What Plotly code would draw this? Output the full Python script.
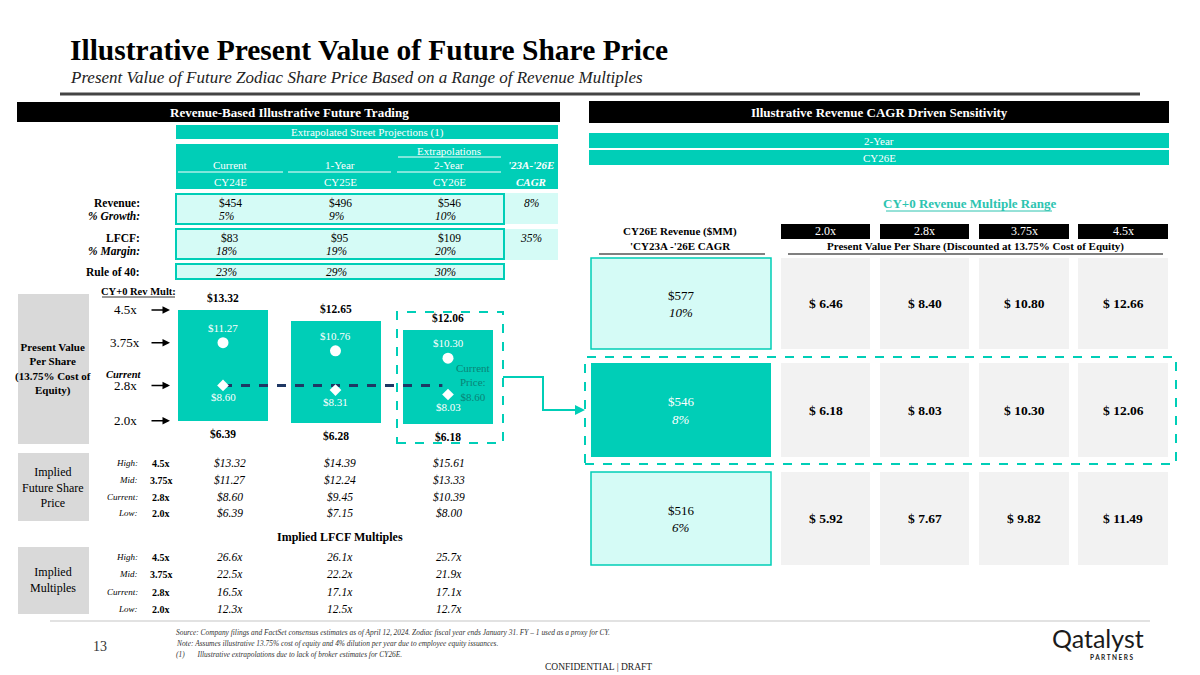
import plotly.graph_objects as go

W, H = 1200, 675
SERIF = "Liberation Serif"
TEAL = "#00CEB7"
LIGHT = "#D5FBF6"
GRAYBOX = "#D9D9D9"
CELL = "#F2F2F2"
NAVY = "#1F3864"

# ---------------- data ----------------
col_heads = ["Current", "1-Year", "2-Year"]
periods = ["CY24E", "CY25E", "CY26E"]
revenue = [454, 496, 546]
rev_growth = [5, 9, 10]
rev_cagr = 8
lfcf = [83, 95, 109]
lfcf_margin = [18, 19, 20]
lfcf_cagr = 35
rule_of_40 = [23, 29, 30]

mult_tags = ["High:", "Mid:", "Current:", "Low:"]
mult_names = ["4.5x", "3.75x", "2.8x", "2.0x"]
pv_high = [13.32, 12.65, 12.06]
pv_mid = [11.27, 10.76, 10.30]
pv_cur = [8.60, 8.31, 8.03]
pv_low = [6.39, 6.28, 6.18]
current_price = 8.60

fut_high = [13.32, 14.39, 15.61]
fut_mid = [11.27, 12.24, 13.33]
fut_cur = [8.60, 9.45, 10.39]
fut_low = [6.39, 7.15, 8.00]

lm_high = [26.6, 26.1, 25.7]
lm_mid = [22.5, 22.2, 21.9]
lm_cur = [16.5, 17.1, 17.1]
lm_low = [12.3, 12.5, 12.7]

sens_mults = ["2.0x", "2.8x", "3.75x", "4.5x"]
sens_revenue = [577, 546, 516]
sens_cagr = [10, 8, 6]
sens_pv_10 = [6.46, 8.40, 10.80, 12.66]
sens_pv_8 = [6.18, 8.03, 10.30, 12.06]
sens_pv_6 = [5.92, 7.67, 9.82, 11.49]

# ---------------- helpers ----------------
def X(p):
    return p / W


def Y(p):
    return 1 - p / H


shapes = []
annots = []


def rect(x0, y0, x1, y1, fill=None, line=None, lw=1.5, dash=None):
    shapes.append(dict(type="rect", xref="paper", yref="paper",
                       x0=X(x0), x1=X(x1), y0=Y(y1), y1=Y(y0),
                       fillcolor=fill if fill else "rgba(0,0,0,0)",
                       line=dict(color=line if line else "rgba(0,0,0,0)",
                                 width=lw if line else 0, dash=dash),
                       layer="below"))


def hline(x0, x1, y, color, w=1.5, dash=None):
    shapes.append(dict(type="line", xref="paper", yref="paper",
                       x0=X(x0), x1=X(x1), y0=Y(y), y1=Y(y),
                       line=dict(color=color, width=w, dash=dash)))


def txt(x, y, s, size=11, color="black", bold=False, italic=False,
        xanchor="center", family=SERIF, xref="paper", yref="paper", yshift=0):
    if bold:
        s = "<b>" + s + "</b>"
    if italic:
        s = "<i>" + s + "</i>"
    annots.append(dict(x=X(x) if xref == "paper" else x,
                       y=Y(y) if yref == "paper" else y,
                       xref=xref, yref=yref, text=s, showarrow=False,
                       xanchor=xanchor, yanchor="middle", yshift=yshift,
                       font=dict(family=family, size=size, color=color)))


# ---------------- title ----------------
txt(68, 50, "Illustrative Present Value of Future Share Price", 29.5, bold=True, xanchor="left")
txt(68, 77, "Present Value of Future Zodiac Share Price Based on a Range of Revenue Multiples",
    17, italic=True, xanchor="left", color="#222")
hline(60, 1140, 94, "#444444", 3)

# ---------------- left section ----------------
rect(17, 102, 560, 122, fill="black")
txt(289, 112, "Revenue-Based Illustrative Future Trading", 13, "white", bold=True)
rect(176, 125, 558, 139, fill=TEAL)
txt(367, 132, "Extrapolated Street Projections (1)", 11, "white")
rect(176, 144, 558, 189, fill=TEAL)
col_x = [230, 340, 449]
cagr_x = 531
txt(col_x[2], 151, "Extrapolations", 11, "white")
hline(398, 501, 157, "white", 1)
for i in range(3):
    txt(col_x[i], 165, col_heads[i], 11, "white")
    txt(col_x[i], 182, periods[i], 11, "white")
hline(178, 283, 172, "white", 1)
hline(288, 391, 172, "white", 1)
hline(397, 501, 172, "white", 1)
txt(cagr_x, 165, "'23A-'26E", 11, "white", bold=True, italic=True)
txt(cagr_x, 182, "CAGR", 11, "white", bold=True, italic=True)

rect(505, 193, 558, 224, fill=LIGHT)
rect(505, 229, 558, 260, fill=LIGHT)
rect(176, 194, 504, 224, fill=LIGHT, line=TEAL, lw=2)
rect(176, 229, 504, 259, fill=LIGHT, line=TEAL, lw=2)
rect(176, 264, 504, 279, fill=LIGHT, line=TEAL, lw=2)

txt(142, 203, "Revenue:", 11.5, bold=True, xanchor="right")
txt(142, 216, "% Growth:", 11.5, bold=True, italic=True, xanchor="right")
txt(142, 238, "LFCF:", 11.5, bold=True, xanchor="right")
txt(142, 251, "% Margin:", 11.5, bold=True, italic=True, xanchor="right")
txt(142, 272, "Rule of 40:", 11.5, bold=True, xanchor="right")
for i in range(3):
    txt(col_x[i], 203, f"${revenue[i]}", 11.5)
    txt(col_x[i] - 4, 216, f"{rev_growth[i]}%", 11.5, italic=True)
    txt(col_x[i], 238, f"${lfcf[i]}", 11.5)
    txt(col_x[i] - 4, 251, f"{lfcf_margin[i]}%", 11.5, italic=True)
    txt(col_x[i] - 4, 272, f"{rule_of_40[i]}%", 11.5, italic=True)
txt(cagr_x, 203, f"{rev_cagr}%", 11.5, italic=True)
txt(cagr_x, 238, f"{lfcf_cagr}%", 11.5, italic=True)

# chart labels
txt(138, 291, "CY+0 Rev Mult:", 10.5, bold=True)
hline(102, 175, 297, "black", 0.8)
rect(18, 294, 89, 444, fill=GRAYBOX)
txt(53, 369, "Present Value<br>Per Share<br>(13.75% Cost of<br>Equity)", 11, bold=True)

bar1 = [pv_high[0], pv_mid[0], pv_cur[0], pv_low[0]]
for name, v in zip(mult_names, bar1):
    txt(125, v, name, 13, xref="paper", yref="y")
    annots.append(dict(x=X(170), y=v, xref="paper", yref="y", text="", showarrow=True,
                       ax=-20, ay=0, arrowhead=2, arrowsize=1, arrowwidth=1.5,
                       arrowcolor="black"))
txt(124, 374, "Current", 10.5, bold=True, italic=True)

rect(397, 312, 503, 443, line=TEAL, lw=2, dash="dash")
txt(473, 383, "Current<br>Price:<br>$8.60", 11, color="#0A8476")

# connector arrow to sensitivity
shapes.append(dict(type="path", xref="paper", yref="paper",
                   path=f"M {X(503)},{Y(377)} L {X(543)},{Y(377)} L {X(543)},{Y(410)} L {X(575)},{Y(410)}",
                   line=dict(color=TEAL, width=2)))
annots.append(dict(x=X(585), y=Y(410), xref="paper", yref="paper", text="", showarrow=True,
                   ax=-14, ay=0, arrowhead=2, arrowsize=1, arrowwidth=2, arrowcolor=TEAL))

# ---------------- implied sections ----------------
rect(18, 453, 89, 521, fill=GRAYBOX)
txt(53, 487, "Implied<br>Future Share<br>Price", 12)
fut_rows = [fut_high, fut_mid, fut_cur, fut_low]
fut_y = [463, 480, 497, 513]
for r in range(4):
    txt(140, fut_y[r], mult_tags[r], 9, italic=True, xanchor="right")
    txt(161, fut_y[r], mult_names[r], 10, bold=True)
    for i in range(3):
        txt(col_x[i], fut_y[r], f"${fut_rows[r][i]:.2f}", 11.5, italic=True)

txt(340, 537, "Implied LFCF Multiples", 12, bold=True)
rect(18, 547, 89, 614, fill=GRAYBOX)
txt(53, 580, "Implied<br>Multiples", 12)
lm_rows = [lm_high, lm_mid, lm_cur, lm_low]
lm_y = [557, 574, 592, 609]
for r in range(4):
    txt(140, lm_y[r], mult_tags[r], 9, italic=True, xanchor="right")
    txt(161, lm_y[r], mult_names[r], 10, bold=True)
    for i in range(3):
        txt(col_x[i], lm_y[r], f"{lm_rows[r][i]:.1f}x", 11.5, italic=True)

# ---------------- right section ----------------
rect(589, 101, 1169, 123, fill="black")
txt(879, 112, "Illustrative Revenue CAGR Driven Sensitivity", 13, "white", bold=True)
rect(589, 133, 1169, 148, fill=TEAL)
txt(879, 140.5, "2-Year", 11, "white")
rect(589, 150, 1169, 165, fill=TEAL)
txt(879, 157.5, "CY26E", 11, "white")

txt(969, 204, "CY+0 Revenue Multiple Range", 13, color="#2CC4B0", bold=True)
hline(886, 1052, 211, "#2CC4B0", 1)

cell_x = [(781, 870), (880, 969), (979, 1069), (1078, 1168)]
for (a, b), m in zip(cell_x, sens_mults):
    rect(a, 224, b, 239, fill="black")
    txt((a + b) / 2, 231.5, m, 12, "white")
txt(680, 232, "CY26E Revenue ($MM)", 11, bold=True)
txt(680, 246, "'CY23A -'26E CAGR", 11, bold=True)
hline(599, 765, 254, "#808080", 2)
txt(975, 246, "Present Value Per Share (Discounted at 13.75% Cost of Equity)", 11, bold=True)
hline(788, 1163, 254, "#808080", 2)

row_y = [(258, 349), (363, 457), (472, 565)]
sens_rows = [sens_pv_10, sens_pv_8, sens_pv_6]
for r, (y0, y1) in enumerate(row_y):
    mid = (y0 + y1) / 2
    if r == 1:
        rect(591, y0, 771, y1, fill=TEAL)
        col = "white"
    else:
        rect(591, y0, 771, y1, fill=LIGHT, line=TEAL, lw=1.5)
        col = "black"
    txt(681, mid - 8, f"${sens_revenue[r]}", 13, col)
    txt(681, mid + 9, f"{sens_cagr[r]}%", 13, col, italic=True)
    for c, (a, b) in enumerate(cell_x):
        rect(a, y0, b, y1, fill=CELL)
        txt((a + b) / 2, mid, f"$ {sens_rows[r][c]:.2f}", 13.5, bold=True)
rect(585, 357, 1176, 464, line=TEAL, lw=2, dash="dash")

# ---------------- footer ----------------
hline(50, 1150, 621, "#D9D9D9", 1.5)
txt(100, 646, "13", 14, color="#333")
txt(174, 632, "Source: Company filings and FactSet consensus estimates as of April 12, 2024. Zodiac fiscal year ends January 31. FY – 1 used as a proxy for CY.",
    7.4, italic=True, xanchor="left", color="#333")
txt(174, 643, "Note: Assumes illustrative 13.75% cost of equity and 4% dilution per year due to employee equity issuances.",
    7.4, italic=True, xanchor="left", color="#333")
txt(174, 654, "(1)&nbsp;&nbsp;&nbsp;&nbsp;&nbsp;&nbsp;&nbsp;Illustrative extrapolations due to lack of broker estimates for CY26E.",
    7.4, italic=True, xanchor="left", color="#333")
txt(598, 667, "CONFIDENTIAL | DRAFT", 9.5, color="#222")
txt(1098, 638, "Qatalyst", 25, color="#1b1b1b", family="Lato")
txt(1112, 657, "P A R T N E R S", 6.5, color="#1b1b1b", family="Lato", bold=True)

# ---------------- football field chart (data-driven) ----------------
xs = [0, 1, 2]
fig = go.Figure()
fig.add_trace(go.Bar(x=xs, y=[h - l for h, l in zip(pv_high, pv_low)], base=pv_low,
                     width=0.8, marker=dict(color=TEAL, line=dict(width=0)),
                     hoverinfo="skip"))
fig.add_trace(go.Scatter(x=[xs[0], xs[-1] - 0.05], y=[current_price, current_price], mode="lines",
                         line=dict(color=NAVY, width=3, dash="dash"), hoverinfo="skip"))
fig.add_trace(go.Scatter(x=xs, y=pv_mid, mode="markers",
                         marker=dict(symbol="circle", size=11, color="white"), hoverinfo="skip"))
fig.add_trace(go.Scatter(x=xs, y=pv_cur, mode="markers",
                         marker=dict(symbol="diamond", size=9, color="white"), hoverinfo="skip"))

for i in xs:
    txt(i, pv_high[i], f"${pv_high[i]:.2f}", 11.5, bold=True, xref="x", yref="y", yshift=12)
    txt(i, pv_low[i], f"${pv_low[i]:.2f}", 11.5, bold=True, xref="x", yref="y", yshift=-13)
    txt(i, pv_mid[i], f"${pv_mid[i]:.2f}", 11, "white", xref="x", yref="y", yshift=15)
    txt(i, pv_cur[i], f"${pv_cur[i]:.2f}", 11, "white", xref="x", yref="y", yshift=-12)

fig.update_layout(
    width=W, height=H, margin=dict(l=0, r=0, t=0, b=0),
    paper_bgcolor="white", plot_bgcolor="rgba(0,0,0,0)", showlegend=False,
    xaxis=dict(domain=[X(166.75), X(504.25)], range=[-0.5, 2.5], visible=False, fixedrange=True),
    yaxis=dict(domain=[Y(443), Y(299)], range=[5, 14], visible=False, fixedrange=True),
    shapes=shapes, annotations=annots, bargap=0,
)
fig.write_html("out.html", config={"displayModeBar": False},
               post_script="document.body.style.margin='0';document.body.style.overflow='hidden';")
